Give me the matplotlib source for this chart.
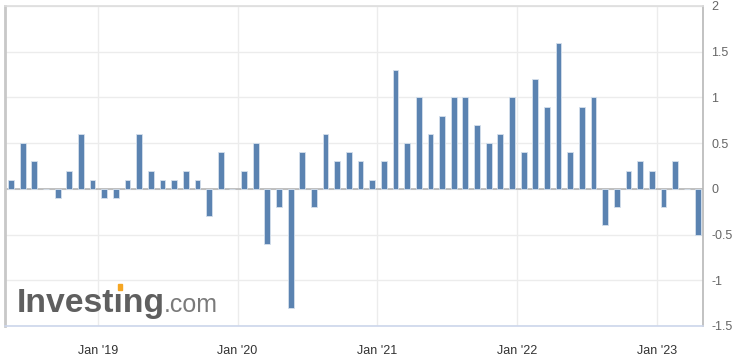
import matplotlib
matplotlib.use("Agg")
import matplotlib.pyplot as plt
from matplotlib.patches import Rectangle

# Monthly values, May 2018 .. Apr 2023
values = [0.1, 0.5, 0.3, 0.0, -0.1, 0.2, 0.6, 0.1,
          -0.1, -0.1, 0.1, 0.6, 0.2, 0.1, 0.1, 0.2, 0.1, -0.3, 0.4, 0.0,
          0.2, 0.5, -0.6, -0.2, -1.3, 0.4, -0.2, 0.6, 0.3, 0.4, 0.3, 0.1,
          0.3, 1.3, 0.5, 1.0, 0.6, 0.8, 1.0, 1.0, 0.7, 0.5, 0.6, 1.0,
          0.4, 1.2, 0.9, 1.6, 0.4, 0.9, 1.0, -0.4, -0.2, 0.2, 0.3, 0.2,
          -0.2, 0.3, 0.0, -0.5]
tick_labels = ["Jan '19", "Jan '20", "Jan '21", "Jan '22", "Jan '23"]
tick_month_index = [8, 20, 32, 44, 56]   # index of January in the series
y_ticks = [-1.5, -1, -0.5, 0, 0.5, 1, 1.5, 2]
y_labels = ["-1.5", "-1", "-0.5", "0", "0.5", "1", "1.5", "2"]

plt.rcParams['font.family'] = ['Liberation Sans', 'DejaVu Sans']

W, H = 739, 357
fig = plt.figure(figsize=(W / 100, H / 100), dpi=100)
left, right, top, bottom = 4.5, 702.7, 6.0, 326.0
ax = fig.add_axes([left / W, 1 - bottom / H, (right - left) / W, (bottom - top) / H])

x = list(range(len(values)))
ax.bar(x, values, width=0.5, color='#5b83b1', edgecolor='#d5e0ec', linewidth=0.6, zorder=3)

ax.set_xlim(-0.56, 59.37)
ax.set_ylim(-1.5, 2.0)

ax.set_yticks(y_ticks)
ax.set_yticklabels(y_labels)
ax.yaxis.tick_right()
ax.tick_params(axis='y', length=0, pad=6, labelsize=9, labelcolor='#666666')
for lab in ax.get_yticklabels():
    lab.set_horizontalalignment('left')

xt = [m - 0.55 for m in tick_month_index]
ax.set_xticks(xt)
ax.set_xticklabels(tick_labels)
ax.tick_params(axis='x', length=0, pad=14, labelsize=9, labelcolor='#333333')

ax.grid(True, color='#ececec', linewidth=1.0, zorder=0)
ax.axhline(0, color='#b5b5b5', linewidth=1.2, zorder=2)

for side, col in [('left', '#c8c8c8'), ('right', '#b8b8b8'), ('top', '#dddddd'), ('bottom', '#ccd6eb')]:
    ax.spines[side].set_color(col)
    ax.spines[side].set_linewidth(1.2)
ax.spines['left'].set_linewidth(2.0)

# Investing.com watermark
fig.canvas.draw()
renderer = fig.canvas.get_renderer()
lx, ly = 17 / W, 1 - 312 / H
fs = 24.3
t1 = fig.text(lx, ly, "Investıng", fontsize=fs, fontweight='bold', color='#5f5f5f',
              ha='left', va='baseline', zorder=10)
bb1 = t1.get_window_extent(renderer)
tmp = fig.text(lx, ly, "Invest", fontsize=fs, fontweight='bold', ha='left', va='baseline')
bbp = tmp.get_window_extent(renderer)
tmp.remove()
tmpi = fig.text(lx, ly, "Investı", fontsize=fs, fontweight='bold', ha='left', va='baseline')
bbi = tmpi.get_window_extent(renderer)
tmpi.remove()
cx = (bbp.x1 + bbi.x1) / 2
fig.patches.append(Rectangle(((cx - 1.5) / W, 1 - 290 / H), 4.5 / W, 6 / H,
                             transform=fig.transFigure, color='#f5a623', zorder=11))
fig.text(bb1.x1 / W - 0.002, ly, ".com", fontsize=18, color='#7a7a7a',
         ha='left', va='baseline', zorder=10)

fig.savefig("out.png", dpi=100)
